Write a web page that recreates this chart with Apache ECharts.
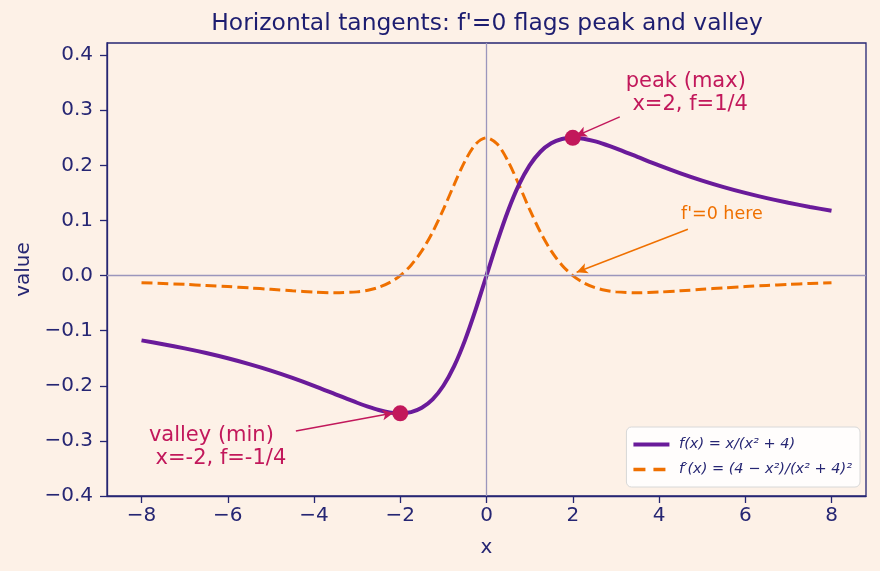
<!DOCTYPE html>
<html><head><meta charset="utf-8">
<script src="https://cdn.jsdelivr.net/npm/echarts@6/dist/echarts.min.js"></script>
<style>html,body{margin:0;padding:0;background:#fdf1e7;}#c{width:880px;height:571px;}</style>
</head><body><div id="c"></div>
<script>
const xs = [-8,-7.5,-7,-6.5,-6,-5.5,-5,-4.5,-4,-3.5,-3,-2.75,-2.5,-2.25,-2,-1.75,-1.5,-1.25,-1,-0.75,-0.5,-0.25,0,0.25,0.5,0.75,1,1.25,1.5,1.75,2,2.25,2.5,2.75,3,3.5,4,4.5,5,5.5,6,6.5,7,7.5,8];
const fVals = [-0.1176,-0.1245,-0.1321,-0.1405,-0.15,-0.1606,-0.1724,-0.1856,-0.2,-0.2154,-0.2308,-0.2378,-0.2439,-0.2483,-0.25,-0.2478,-0.24,-0.2247,-0.2,-0.1644,-0.1176,-0.0615,0,0.0615,0.1176,0.1644,0.2,0.2247,0.24,0.2478,0.25,0.2483,0.2439,0.2378,0.2308,0.2154,0.2,0.1856,0.1724,0.1606,0.15,0.1405,0.1321,0.1245,0.1176];
const dVals = [-0.0130,-0.0144,-0.0160,-0.0179,-0.02,-0.0224,-0.0250,-0.0276,-0.03,-0.0312,-0.0296,-0.0267,-0.0214,-0.0129,0,0.0188,0.0448,0.0788,0.12,0.1651,0.2076,0.2386,0.25,0.2386,0.2076,0.1651,0.12,0.0788,0.0448,0.0188,0,-0.0129,-0.0214,-0.0267,-0.0296,-0.0312,-0.03,-0.0276,-0.0250,-0.0224,-0.02,-0.0179,-0.0160,-0.0144,-0.0130];
const xTicks = [-8,-6,-4,-2,0,2,4,6,8];
const yTicks = [-0.4,-0.3,-0.2,-0.1,0,0.1,0.2,0.3,0.4];
const extrema = [[2,0.25],[-2,-0.25]];
const peakArrow = [[3.09,0.288],[2.07,0.253]];
const zeroArrow = [[4.67,0.084],[2.09,0.006]];
const valleyArrow = [[-4.42,-0.282],[-2.16,-0.2495]];

const navy = '#262673';
const crimson = '#c2185b';
const orange = '#ef7000';
const purple = '#6a1b9a';
const fmt = v => String(v).replace('-', '\u2212');

const chart = echarts.init(document.getElementById('c'), null, {renderer:'canvas'});
const arrowLine = (pts, color, w) => ({
  type:'line', data:[], silent:true,
  markLine:{ silent:true, symbol:['none','arrow'], symbolSize:[8,11], animation:false,
    label:{show:false}, lineStyle:{color:color, width:w, type:'solid'},
    data:[[{coord:pts[0]},{coord:pts[1]}]] }
});
chart.setOption({
  backgroundColor:'#fdf1e7',
  animation:false,
  title:{text:"Horizontal tangents: f'=0 flags peak and valley", left:482, top:7, textAlign:'center',
    textStyle:{fontFamily:'DejaVu Sans', fontSize:23.4, fontWeight:'normal', color:'#1d1d70'}},
  grid:{left:107, right:14, top:43, bottom:75, outerBoundsMode:'none', containLabel:false, show:true, borderColor:navy, borderWidth:1.3, backgroundColor:'transparent'},
  xAxis:{type:'value', min:-8.8, max:8.8, name:'x', nameLocation:'middle', nameGap:42,
    nameTextStyle:{fontFamily:'DejaVu Sans', fontSize:20, color:navy},
    axisLine:{show:true, onZero:false, lineStyle:{color:navy, width:1.3}}, splitLine:{show:false},
    axisTick:{show:true, inside:false, length:7, lineStyle:{color:navy, width:1.3}, customValues:xTicks},
    axisLabel:{customValues:xTicks, formatter:fmt, fontFamily:'DejaVu Sans', fontSize:20, color:navy, margin:10}},
  yAxis:{type:'value', min:-0.4, max:0.422, name:'value', nameLocation:'middle', nameGap:72,
    nameTextStyle:{fontFamily:'DejaVu Sans', fontSize:20, color:navy},
    axisLine:{show:true, onZero:false, lineStyle:{color:navy, width:1.3}}, splitLine:{show:false},
    axisTick:{show:true, inside:false, length:7, lineStyle:{color:navy, width:1.3}, customValues:yTicks},
    axisLabel:{customValues:yTicks, formatter:v=>fmt(v.toFixed(1)), fontFamily:'DejaVu Sans', fontSize:20, color:navy, margin:14}},
  legend:{right:20, bottom:84, orient:'vertical', itemWidth:36, itemHeight:12, itemGap:10,
    backgroundColor:'rgba(255,255,255,0.85)', borderColor:'#d8d8d8', borderWidth:1, borderRadius:5, padding:[10,8,10,5],
    itemStyle:{opacity:0},
    textStyle:{fontFamily:'DejaVu Sans', fontSize:14.5, fontStyle:'italic', color:navy},
    data:[{name:'f', lineStyle:{width:4, color:purple}}, {name:'fp', lineStyle:{width:3.5, color:orange, type:[12,8]}}],
    formatter:n => n==='f' ? ' f(x) = x/(x\u00b2 + 4)' : ' f\u2032(x) = (4 \u2212 x\u00b2)/(x\u00b2 + 4)\u00b2'},
  series:[
    {type:'line', name:'zero', data:[], silent:true,
     markLine:{silent:true, symbol:'none', animation:false, label:{show:false},
       lineStyle:{color:'#9b96bc', width:1.3, type:'solid'}, data:[{xAxis:0},{yAxis:0}]}},
    {type:'line', name:'fp', data:xs.map((x,i)=>[x,dVals[i]]), symbol:'none', smooth:0.3, z:3,
     lineStyle:{color:orange, width:3, type:[11,5]}, itemStyle:{color:orange}},
    {type:'line', name:'f', data:xs.map((x,i)=>[x,fVals[i]]), symbol:'none', smooth:0.3, z:4,
     lineStyle:{color:purple, width:4}, itemStyle:{color:purple}},
    {type:'scatter', name:'ext', data:extrema, symbolSize:16, z:6, itemStyle:{color:crimson, opacity:1}},
    arrowLine(peakArrow, crimson, 1.5),
    arrowLine(valleyArrow, crimson, 1.5),
    arrowLine(zeroArrow, orange, 1.5)
  ]
});
const p1 = chart.convertToPixel({gridIndex:0}, peakArrow[0]);
const p2 = chart.convertToPixel({gridIndex:0}, zeroArrow[0]);
const p3 = chart.convertToPixel({gridIndex:0}, valleyArrow[0]);
const tstyle = (t,c,s,lh,al) => ({text:t, fill:c, font:s+'px "DejaVu Sans"', textAlign:al, textVerticalAlign:'middle', lineHeight:lh, whiteSpace:'pre'});
chart.setOption({graphic:[
  {type:'text', x:p1[0]+6, y:p1[1]-23.5, style:tstyle('peak (max)\n\u00a0x=2, f=1/4', crimson, 21, 23, 'left')},
  {type:'text', x:p2[0]+34, y:p2[1]-15, style:tstyle("f'=0 here", orange, 17.5, 20, 'center')},
  {type:'text', x:p3[0]-147, y:p3[1]+16.5, style:tstyle('valley (min)\n\u00a0x=-2, f=-1/4', crimson, 21, 23, 'left')}
]});
</script></body></html>
